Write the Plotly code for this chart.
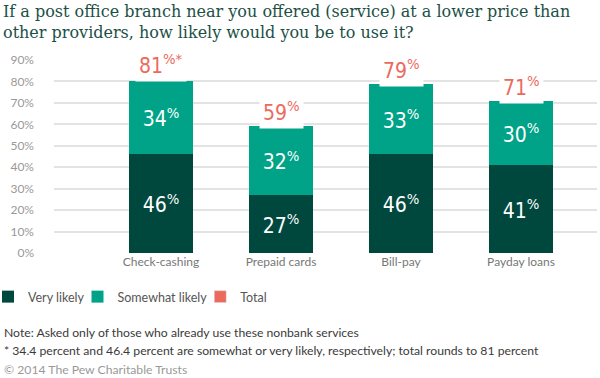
import plotly.graph_objects as go

categories = ["Check-cashing", "Prepaid cards", "Bill-pay", "Payday loans"]
very_likely = [46, 27, 46, 41]
somewhat_likely = [34, 32, 33, 30]
totals = [81, 59, 79, 71]
total_marks = ["*", "", "", ""]
y_ticks = [0, 10, 20, 30, 40, 50, 60, 70, 80, 90]
y_tick_labels = [f"{v}%" for v in y_ticks]

C_DARK = "#00483e"
C_TEAL = "#00a387"
C_RED = "#ec6a5c"

W, H = 600, 378
L, R, T, B = 54, 597, 60, 253

def px_x(px):
    return (px - L) / (R - L)

def px_y(py):
    return (B - py) / (B - T)

NUM_FONT = "Liberation Sans Narrow, DejaVu Sans Condensed, Roboto Condensed, sans-serif"
SANS = "Lato, Open Sans, sans-serif"

fig = go.Figure()
fig.add_trace(go.Bar(
    x=categories, y=very_likely, name="Very likely", marker_color=C_DARK,
    marker_line_width=0, width=0.533,
    text=[f"{v}<sup>%</sup>" for v in very_likely],
    textposition="inside", insidetextanchor="middle",
    textfont=dict(family=NUM_FONT, size=21, color="white"),
    hoverinfo="skip",
))
fig.add_trace(go.Bar(
    x=categories, y=somewhat_likely, name="Somewhat likely", marker_color=C_TEAL,
    marker_line_width=0, width=0.533,
    text=[f"{v}<sup>%</sup>" for v in somewhat_likely],
    textposition="inside", insidetextanchor="middle",
    textfont=dict(family=NUM_FONT, size=21, color="white"),
    hoverinfo="skip",
))
fig.add_trace(go.Bar(
    x=categories, y=[None] * len(categories), name="Total", marker_color=C_RED,
    width=0.533, hoverinfo="skip",
))

annotations = []
for c, t, m in zip(categories, totals, total_marks):
    annotations.append(dict(
        x=c, y=t, xref="x", yref="y", yshift=15, showarrow=False,
        text=f"{t}<sup>%{m}</sup>", bgcolor="white", borderpad=3,
        font=dict(family=NUM_FONT, size=21, color=C_RED),
    ))

annotations.append(dict(
    x=px_x(1), y=px_y(0), xref="paper", yref="paper", xanchor="left", yanchor="top",
    align="left", showarrow=False,
    text="If a post office branch near you offered (service) at a lower price than<br>other providers, how likely would you be to use it?",
    font=dict(family="DejaVu Serif, serif", size=16, color="#1c5046"),
))

notes = [
    ("Note: Asked only of those who already use these nonbank services", 332, "#3a3a3a"),
    ("* 34.4 percent and 46.4 percent are somewhat or very likely, respectively; total rounds to 81 percent", 350, "#3a3a3a"),
    ("\u00a9 2014 The Pew Charitable Trusts", 369, "#999999"),
]
for txt, py, col in notes:
    annotations.append(dict(
        x=px_x(2), y=px_y(py), xref="paper", yref="paper", xanchor="left", yanchor="middle",
        showarrow=False, text=txt, font=dict(family=SANS, size=12.2, color=col),
    ))

fig.update_layout(
    width=W, height=H, autosize=False,
    margin=dict(l=L, r=W - R, t=T, b=H - B, pad=0),
    paper_bgcolor="white", plot_bgcolor="white",
    barmode="stack", bargap=0,
    xaxis=dict(
        range=[-0.892, 3.633], showgrid=False, zeroline=False, showline=False,
        tickfont=dict(family=SANS, size=12, color="#777777"), ticks="", automargin=False,
    ),
    yaxis=dict(
        range=[0, 90], tickvals=y_ticks, ticktext=y_tick_labels, showgrid=True,
        gridcolor="#e3e3e3", gridwidth=2, zeroline=False, showline=False,
        tickfont=dict(family=SANS, size=12, color="#999999"), ticklabelstandoff=19,
        automargin=False,
    ),
    legend=dict(
        orientation="h", xref="container", x=0, xanchor="left",
        yref="container", y=(H - 297) / H, yanchor="middle",
        font=dict(family=SANS, size=12.5, color="#555555"), traceorder="normal",
        itemwidth=30, indentation=-12,
    ),
    annotations=annotations,
    showlegend=True,
)

fig.write_html("out.html", config={"displayModeBar": False},
               post_script="document.body.style.margin='0';")
